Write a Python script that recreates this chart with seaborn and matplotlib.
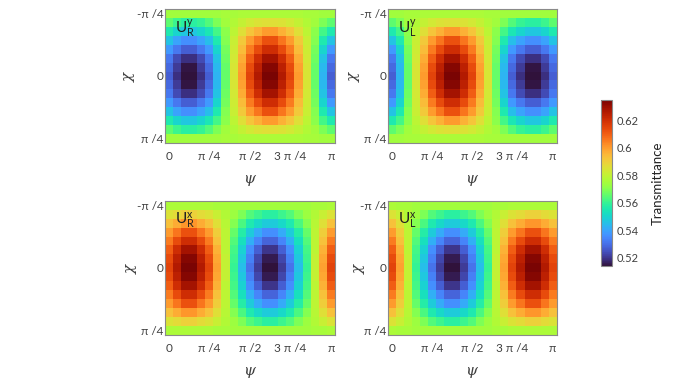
import numpy as np
import matplotlib
matplotlib.use('Agg')
import matplotlib.pyplot as plt
import seaborn as sns

# ---------------- Data (transmittance x 1000, top half) ----------------

ur_y_top = [
    [574, 574, 574, 574, 574, 574, 574, 575, 575, 576, 576, 576, 576, 576, 576, 576, 576, 575, 575, 574, 574],
    [565, 561, 558, 558, 560, 564, 569, 574, 577, 580, 583, 585, 586, 586, 585, 583, 580, 577, 574, 569, 565],
    [556, 550, 547, 547, 550, 555, 562, 571, 579, 586, 592, 596, 600, 600, 596, 592, 586, 579, 571, 562, 556],
    [546, 540, 536, 536, 540, 545, 556, 570, 581, 591, 600, 606, 612, 612, 606, 600, 591, 581, 570, 556, 546],
    [538, 532, 527, 527, 532, 538, 550, 568, 582, 594, 605, 613, 620, 620, 613, 605, 594, 582, 568, 550, 538],
    [532, 524, 519, 519, 524, 532, 546, 567, 583, 597, 610, 620, 628, 628, 620, 610, 597, 583, 567, 546, 532],
    [529, 521, 515, 515, 521, 529, 544, 566, 584, 599, 613, 624, 633, 633, 624, 613, 599, 584, 566, 544, 529],
    [527, 519, 514, 514, 519, 527, 543, 566, 584, 600, 615, 626, 635, 635, 626, 615, 600, 584, 566, 543, 527],
]

ur_x_top = [
    [576, 576, 576, 576, 576, 576, 575, 575, 574, 574, 574, 574, 574, 574, 574, 574, 574, 574, 575, 575, 576],
    [585, 587, 589, 589, 587, 585, 581, 577, 573, 569, 564, 561, 558, 558, 561, 564, 569, 573, 577, 581, 585],
    [593, 597, 601, 601, 597, 593, 586, 578, 570, 563, 556, 551, 548, 548, 551, 556, 563, 570, 578, 586, 593],
    [600, 606, 612, 612, 606, 600, 590, 579, 566, 557, 548, 541, 536, 536, 541, 548, 557, 566, 579, 590, 600],
    [605, 613, 620, 620, 613, 605, 593, 579, 564, 553, 542, 534, 528, 528, 534, 542, 553, 564, 579, 593, 605],
    [610, 620, 628, 628, 620, 610, 596, 579, 562, 549, 536, 527, 520, 520, 527, 536, 549, 562, 579, 596, 610],
    [613, 624, 633, 633, 624, 613, 598, 580, 561, 547, 533, 523, 516, 516, 523, 533, 547, 561, 580, 598, 613],
    [615, 626, 635, 635, 626, 615, 599, 580, 560, 545, 531, 521, 514, 514, 521, 531, 545, 560, 580, 599, 615],
]

x_tick_cols = [0, 5, 10, 15, 20]
x_tick_labels = ['0', 'π /4', 'π /2', '3 π /4', 'π']
y_tick_rows = [0, 7, 14]
y_tick_labels = ['-π /4', '0', 'π /4']
cbar_ticks = [0.52, 0.54, 0.56, 0.58, 0.60, 0.62]
cbar_tick_labels = ['0.52', '0.54', '0.56', '0.58', '0.6', '0.62']

# ---------------- Build the grids ----------------

def full_grid(top):
    top = np.array(top) / 1000
    return np.vstack([top, top[-2::-1]])

ur_y = full_grid(ur_y_top)
ur_x = full_grid(ur_x_top)
# the left-handed panels are the right-handed ones flipped along psi
ul_y = ur_y[:, ::-1]
ul_x = ur_x[:, ::-1]

# grid, polarisation, handedness, axes box in pixels, chi label x in axes units
panels = [
    (ur_y, 'y', 'R', (164.7, 335, 9, 143), -0.165),
    (ul_y, 'y', 'L', (387.7, 556.7, 9, 143), -0.15),
    (ur_x, 'x', 'R', (164.7, 335, 200.7, 335), -0.15),
    (ul_x, 'x', 'L', (387.7, 556.7, 200.7, 335), -0.125),
]

# ---------------- Plot ----------------

W, H = 698, 387
text_col = '#404040'
edge_col = '#8a8a8a'

sns.set_style('white')
plt.rcParams['font.family'] = ['Lato', 'DejaVu Sans']
plt.rcParams['mathtext.fontset'] = 'custom'
plt.rcParams['mathtext.rm'] = 'Lato'
plt.rcParams['mathtext.it'] = 'DejaVu Serif:italic'

fig = plt.figure(figsize=(W / 100, H / 100), dpi=100)


def px_axes(x0, x1, y0, y1):
    return fig.add_axes([x0 / W, 1 - y1 / H, (x1 - x0) / W, (y1 - y0) / H])


cax = px_axes(601, 612, 100, 266)

for i, (grid, pol, hand, box, chi_x) in enumerate(panels):
    ax = px_axes(*box)
    sns.heatmap(grid, ax=ax, cmap='turbo', vmin=0.5142, vmax=0.6345,
                cbar=i == 0, cbar_ax=cax if i == 0 else None,
                xticklabels=False, yticklabels=False)

    ax.set_xticks([c + 0.5 for c in x_tick_cols])
    ax.set_xticklabels(x_tick_labels, rotation=0)
    ax.set_yticks([r + 0.5 for r in y_tick_rows])
    ax.set_yticklabels(y_tick_labels, rotation=0)
    ax.tick_params(axis='both', direction='in', length=2, width=0.6, color='#505050',
                   top=True, bottom=True, left=True, right=True,
                   labelsize=8.5, labelcolor=text_col)
    ax.tick_params(axis='x', pad=6)
    ax.tick_params(axis='y', pad=1)

    ax.set_xlabel(r'$\psi$', fontsize=11, color=text_col, labelpad=8)
    ax.set_ylabel(r'$\chi$', fontsize=11, color=text_col)
    ax.yaxis.set_label_coords(chi_x, 0.5)

    for spine in ax.spines.values():
        spine.set_visible(True)
        spine.set_color(edge_col)
        spine.set_linewidth(0.8)

    ax.text(0.06, 0.85, rf'$\mathrm{{U}}_{{\mathrm{{{hand}}}}}^{{\mathrm{{{pol}}}}}$',
            transform=ax.transAxes, fontsize=11, color='#222222', va='center')

cbar = fig.axes[1].collections[0].colorbar
cbar.set_ticks(cbar_ticks)
cbar.set_ticklabels(cbar_tick_labels)
cbar.ax.tick_params(direction='in', length=2, width=0.5, color='#505050',
                    labelsize=8, labelcolor=text_col, pad=3)
cbar.outline.set_visible(True)
cbar.outline.set_edgecolor(edge_col)
cbar.outline.set_linewidth(0.8)
cbar.set_label('Transmittance', fontsize=9.5, color='#222222', labelpad=10)

fig.savefig('out.png', dpi=100)
